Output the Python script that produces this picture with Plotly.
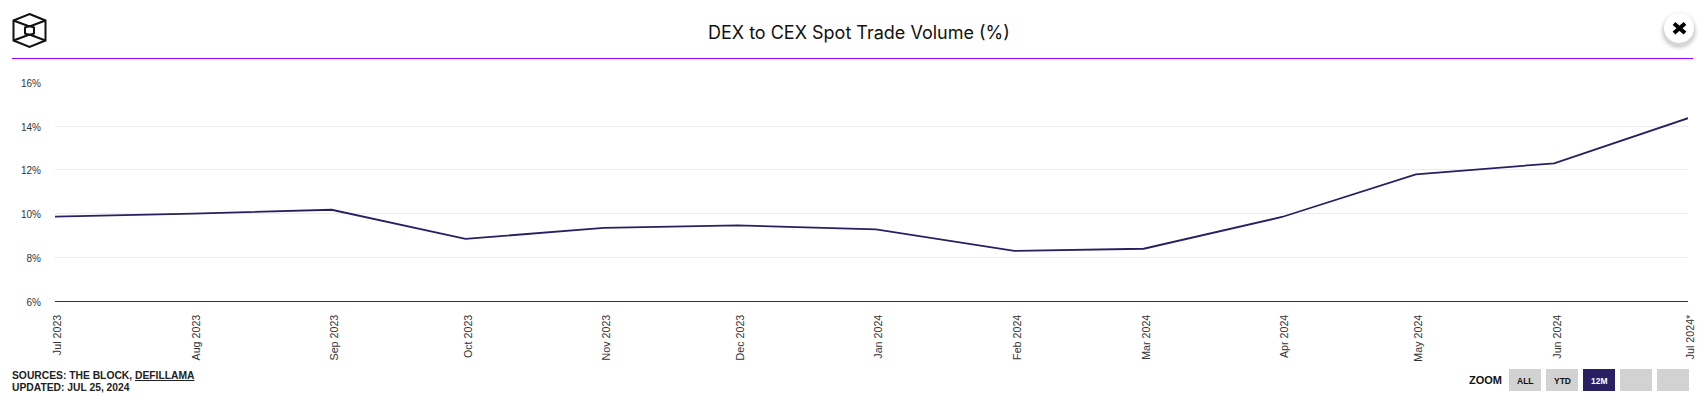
import plotly.graph_objects as go

W, H = 1705, 408

# monthly readings
dates = ['2023-07-01', '2023-08-01', '2023-09-01', '2023-10-01', '2023-11-01', '2023-12-01', '2024-01-01',
         '2024-02-01', '2024-03-01', '2024-04-01', '2024-05-01', '2024-06-01', '2024-07-01']
dex_to_cex = [9.87, 10.0, 10.18, 8.85, 9.35, 9.47, 9.28, 8.3, 8.4, 9.85, 11.8, 12.3, 14.36]
x_labels = ['Jul 2023', 'Aug 2023', 'Sep 2023', 'Oct 2023', 'Nov 2023', 'Dec 2023', 'Jan 2024',
            'Feb 2024', 'Mar 2024', 'Apr 2024', 'May 2024', 'Jun 2024', 'Jul 2024*']
y_ticks = [6, 8, 10, 12, 14, 16]
y_labels = ['6%', '8%', '10%', '12%', '14%', '16%']
zoom_buttons = ['ALL', 'YTD', '12M', '', '']

NAVY = '#2a1f63'
SANS = 'Liberation Sans, Arial, sans-serif'


# helpers: page pixels to paper coordinates (margins are zero, so paper = page)
def px(x):
    return x / W


def py(y):
    return 1 - y / H


def box(x0, y0, x1, y1, **kw):
    return dict(type='rect', xref='paper', yref='paper', x0=px(x0), x1=px(x1), y0=py(y0), y1=py(y1), **kw)


def seg(x0, y0, x1, y1, color, width):
    return dict(type='line', xref='paper', yref='paper', x0=px(x0), x1=px(x1), y0=py(y0), y1=py(y1),
                line=dict(color=color, width=width))


def poly(points, color, width):
    path = 'M ' + ' L '.join(f'{px(a)} {py(b)}' for a, b in points) + ' Z'
    return dict(type='path', xref='paper', yref='paper', path=path, line=dict(color=color, width=width))


def disc(cx, cy, r, **kw):
    return dict(type='circle', xref='paper', yref='paper', x0=px(cx - r), x1=px(cx + r),
                y0=py(cy - r), y1=py(cy + r), line_width=0, **kw)


def page_text(x, y, text, size, color='#222222', anchor='left', family=SANS):
    return dict(xref='paper', yref='paper', x=px(x), y=py(y), text=text, showarrow=False, xanchor=anchor,
                yanchor='middle', font=dict(size=size, color=color, family=family))


fig = go.Figure()
fig.add_trace(go.Scatter(x=dates, y=dex_to_cex, mode='lines', line=dict(color=NAVY, width=1.8), hoverinfo='x+y'))

shapes = [seg(12, 58.5, 1693, 58.5, '#a800ff', 1)]

# logo, hexagon with inner cube
shapes.append(poly([(29.5, 14), (45.5, 20.5), (45.5, 40.5), (29.5, 47), (13.5, 40.5), (13.5, 20.5)], '#111111', 2))
shapes.append(poly([(29.5, 26), (34, 27.5), (34, 33.5), (29.5, 35), (25, 33.5), (25, 27.5)], '#111111', 2))
for a, b, c, d in [(13.5, 20.5, 29.5, 26.5), (45.5, 20.5, 29.5, 26.5), (13.5, 40.5, 29.5, 34.5),
                   (45.5, 40.5, 29.5, 34.5)]:
    shapes.append(seg(a, b, c, d, '#111111', 2))

# close button with soft shadow
for r, op in [(20, 0.015), (19, 0.02), (18, 0.03), (17, 0.04), (16, 0.06)]:
    shapes.append(disc(1679, 31, r, fillcolor='black', opacity=op))
shapes.append(disc(1679, 28, 15, fillcolor='white'))
shapes.append(seg(1674, 23.5, 1685, 33, '#000000', 4))
shapes.append(seg(1685, 23.5, 1674, 33, '#000000', 4))

annotations = [
    page_text(859, 32.5, 'DEX to CEX Spot Trade Volume (%)', 18, '#111111', 'center', 'Inter, sans-serif'),
    page_text(10, 375, '<b>SOURCES: THE BLOCK, <u>DEFILLAMA</u></b>', 10.3),
    page_text(10, 387, '<b>UPDATED: JUL 25, 2024</b>', 10.3),
    page_text(1467, 380, '<b>ZOOM</b>', 11, '#111111'),
]

# zoom buttons
for i, label in enumerate(zoom_buttons):
    x0 = 1509 + i * 37
    active = label == '12M'
    shapes.append(box(x0, 369, x0 + 32, 391, fillcolor=NAVY if active else '#d2d2d2', line_width=0))
    if label:
        annotations.append(page_text(x0 + 16, 381, f'<b>{label}</b>', 8.5, 'white' if active else '#111111', 'center'))

fig.update_layout(
    width=W, height=H,
    autosize=False,
    margin=dict(l=0, r=0, t=0, b=0),
    paper_bgcolor='white',
    plot_bgcolor='white',
    showlegend=False,
    shapes=shapes,
    annotations=annotations,
    xaxis=dict(
        domain=[55 / W, 1688 / W],
        type='date',
        range=[dates[0], dates[-1]],
        tickvals=dates,
        ticktext=x_labels,
        tickangle=-90,
        ticks='',
        ticklabelstandoff=8,
        ticklabelshift=3,
        showgrid=False,
        showline=True,
        linecolor='#333333',
        linewidth=1.3,
        automargin=False,
        tickfont=dict(size=10.7, family=SANS, color='#333333'),
    ),
    yaxis=dict(
        domain=[1 - 301.3 / H, 1 - 82.3 / H],
        range=[6, 16],
        tickvals=y_ticks,
        ticktext=y_labels,
        ticks='',
        ticklabelstandoff=13,
        ticklabelshift=1,
        showgrid=True,
        gridcolor='#ececec',
        gridwidth=1,
        zeroline=False,
        showline=False,
        automargin=False,
        tickfont=dict(size=10, family=SANS, color='#333333'),
    ),
)

# page has a default body margin, drop it so the figure sits at 0,0
fig.write_html('out.html', config=dict(displayModeBar=False), post_script="document.body.style.margin='0';")
